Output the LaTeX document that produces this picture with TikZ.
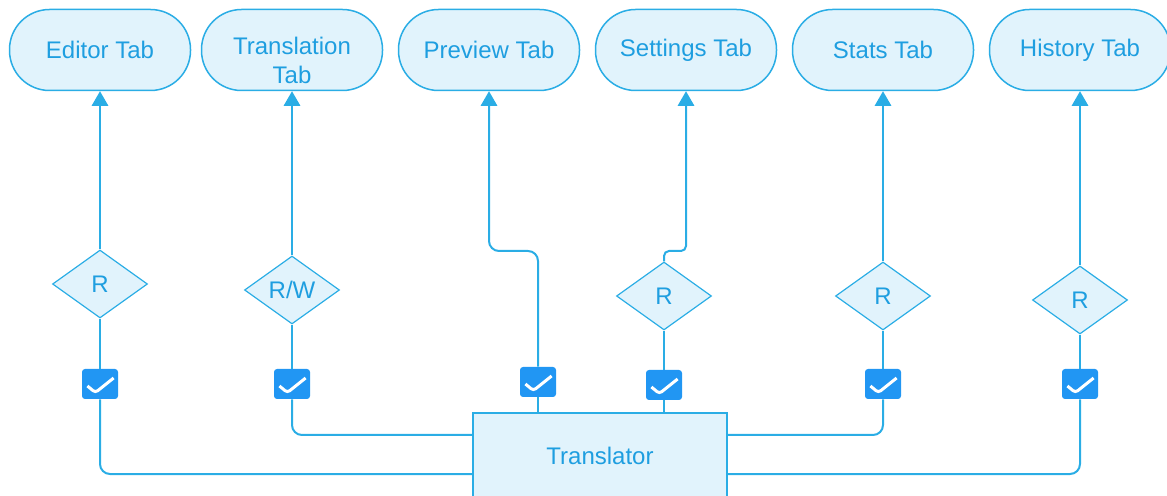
\documentclass[tikz,border=0pt]{standalone}
\usepackage{fontspec}
\setmainfont{Liberation Sans}
\usepackage{xcolor}
\usetikzlibrary{shapes.geometric, arrows}
\definecolor{tabline}{HTML}{2AADE5}
\definecolor{tabfill}{HTML}{E1F3FC}
\definecolor{tabtext}{HTML}{1E9EE0}
\definecolor{tickfill}{HTML}{2196F3}
\tikzstyle{tab} = [rectangle, rounded corners=20pt, 
minimum width=90.5pt, 
minimum height=40.5pt, 
inner sep=0pt, 
align=center, 
draw=tabline, line width=0.75pt, 
fill=tabfill, text=tabtext]
\tikzstyle{access} = [diamond, 
minimum width=47.5pt, 
minimum height=34pt, 
inner sep=0pt, 
text centered, 
draw=tabline, line width=0.6pt, 
fill=tabfill, text=tabtext]
\tikzstyle{tick} = [rectangle, rounded corners=1.5pt, 
minimum width=18pt, 
minimum height=15pt, 
inner sep=0pt, 
fill=tickfill, 
path picture={\draw[white, line width=1.5pt, shift={(path picture bounding box.center)}]
 (-6.3pt,-1pt) -- (-2.3pt,-4.3pt) -- (6.8pt,3pt);}]
\tikzstyle{process} = [rectangle, 
minimum width=127pt, 
minimum height=43pt, 
text centered, 
draw=tabline, line width=0.6pt, 
fill=tabfill, text=tabtext]
\tikzstyle{link} = [draw=tabline, line width=1pt, rounded corners=5pt]
\tikzstyle{arrow} = [link, ->, >=triangle 60]

\begin{document}
\begin{tikzpicture}[x=0.5pt, y=-0.5pt, node distance=98.5pt, font=\fontsize{12pt}{14.5pt}\selectfont]
\useasboundingbox (0,0) rectangle (1167,496);

% the six tabs along the top
\node (editor) [tab] at (100,50) {Editor Tab};
\node (translation) [tab, right of=editor, xshift=-2.5pt, text height=34pt] {Translation\\Tab};
\node (preview) [tab, right of=translation] {Preview Tab};
\node (settings) [tab, right of=preview] {Settings Tab};
\node (stats) [tab, right of=settings] {Stats Tab};
\node (history) [tab, right of=stats] {History Tab};

% access modes
\node (r1) [access, below of=editor, node distance=117pt] {R};
\node (rw) [access, below of=translation, node distance=120pt] {R/W};
\node (r4) [access, below of=settings, node distance=123pt, xshift=-11pt] {R};
\node (r5) [access, below of=stats, node distance=123pt] {R};
\node (r6) [access, below of=history, node distance=125pt] {R};

% checkboxes
\node (c1) [tick, below of=r1, node distance=50pt] {};
\node (c2) [tick, below of=rw, node distance=47pt] {};
\node (c3) [tick, below of=preview, node distance=166pt, xshift=24.5pt] {};
\node (c4) [tick, below of=r4, node distance=44.5pt] {};
\node (c5) [tick, below of=r5, node distance=44pt] {};
\node (c6) [tick, below of=r6, node distance=42pt] {};

\node (translator) [process] at (600,456) {Translator};

\coordinate (jog3) at (515,251);
\coordinate (jog4) at (676,251);

\draw [link] ([yshift=-9pt]translator.west) -| (c1);
\draw [link] ([yshift=10.5pt]translator.west) -| (c2);
\draw [link] (translator.north -| c3) -- (c3);
\draw [link] (translator.north -| c4) -- (c4);
\draw [link] ([yshift=10.5pt]translator.east) -| (c5);
\draw [link] ([yshift=-9pt]translator.east) -| (c6);

\draw [link] (c1) -- (r1);
\draw [link] (c2) -- (rw);
\draw [link] (c4) -- (r4);
\draw [link] (c5) -- (r5);
\draw [link] (c6) -- (r6);

\draw [arrow] (r1) -- (editor);
\draw [arrow] (rw) -- (translation);
\draw [arrow] (c3) |- (jog3) -| (preview);
\draw [arrow, rounded corners=2.5pt] (r4) |- (jog4) -| (settings);
\draw [arrow] (r5) -- (stats);
\draw [arrow] (r6) -- (history);

\end{tikzpicture}
\end{document}
